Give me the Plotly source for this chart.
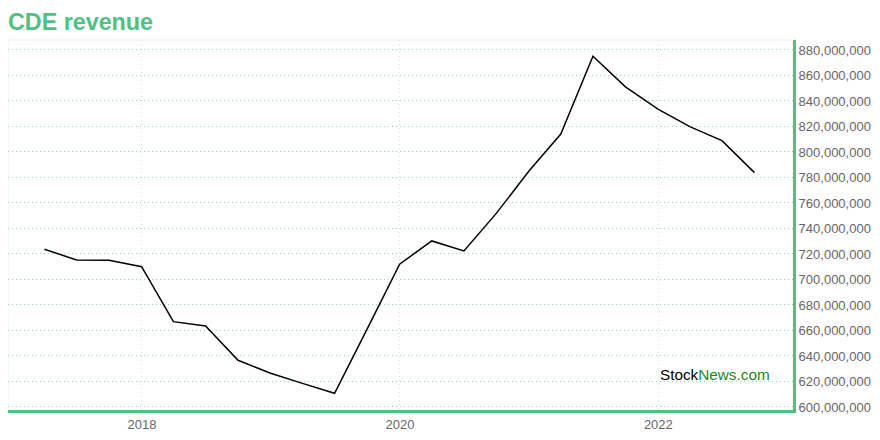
import plotly.graph_objects as go

dates = ["2017-03-31", "2017-06-30", "2017-09-30", "2017-12-31",
         "2018-03-31", "2018-06-30", "2018-09-30", "2018-12-31",
         "2019-03-31", "2019-06-30", "2019-09-30", "2019-12-31",
         "2020-03-31", "2020-06-30", "2020-09-30", "2020-12-31",
         "2021-03-31", "2021-06-30", "2021-09-30", "2021-12-31",
         "2022-03-31", "2022-06-30", "2022-09-30"]
revenue = [723.7, 715.3, 715.0, 710.0,
           666.9, 663.5, 636.6, 626.4,
           618.5, 610.7, 661.0, 712.0,
           730.2, 722.4, 752.0, 785.0,
           814.0, 875.0, 851.0, 833.5,
           819.9, 808.9, 783.8]
revenue = [v * 1e6 for v in revenue]
year_ticks = ["2018-01-01", "2020-01-01", "2022-01-01"]
year_labels = ["2018", "2020", "2022"]

GREEN = "#4fc181"
fig = go.Figure()
fig.add_trace(go.Scatter(x=dates, y=revenue, mode="lines",
                         line=dict(color="#000000", width=1.5),
                         hoverinfo="x+y"))

fig.update_layout(
    width=872, height=432,
    margin=dict(l=0, r=87, t=32, b=30),
    paper_bgcolor="white", plot_bgcolor="white",
    showlegend=False,
    font=dict(family="Liberation Sans, Arial, sans-serif", color="#666666", size=13),
    title=dict(text="<b>CDE revenue</b>", x=0.0, xanchor="left", y=0.968, yanchor="middle",
               font=dict(size=23.3, color=GREEN, family="Liberation Sans, Arial, sans-serif")),
    xaxis=dict(
        range=["2016-12-18", "2023-01-17"],
        showgrid=True, gridcolor="#c4ecd6", griddash="1px,3px", gridwidth=1,
        tickvals=year_ticks,
        ticktext=year_labels,
        showline=True, linecolor=GREEN, linewidth=3,
        ticks="", zeroline=False,
        tickfont=dict(size=13, color="#666666"),
    ),
    yaxis=dict(
        side="right",
        range=[597.6e6, 887.8e6],
        tickvals=[v * 1e6 for v in range(600, 881, 20)],
        tickformat=",d",
        showgrid=True, gridcolor="#8fd4ad", griddash="1px,3px", gridwidth=1,
        showline=True, linecolor=GREEN, linewidth=3,
        ticks="", zeroline=False,
        tickfont=dict(size=13, color="#666666"),
    ),
    shapes=[dict(type="rect", xref="paper", yref="paper", x0=0, x1=1, y0=0, y1=1,
                 line=dict(color="#eeeeee", width=1), layer="below")],
    annotations=[dict(text="Stock<span style='color:#138a2b'>News.com</span>",
                      xref="paper", yref="paper", x=0.973, y=0.097,
                      xanchor="right", yanchor="middle", showarrow=False,
                      font=dict(size=15.3, color="#000000",
                                family="Liberation Sans, Arial, sans-serif"))],
)

fig.write_html("out.html")
